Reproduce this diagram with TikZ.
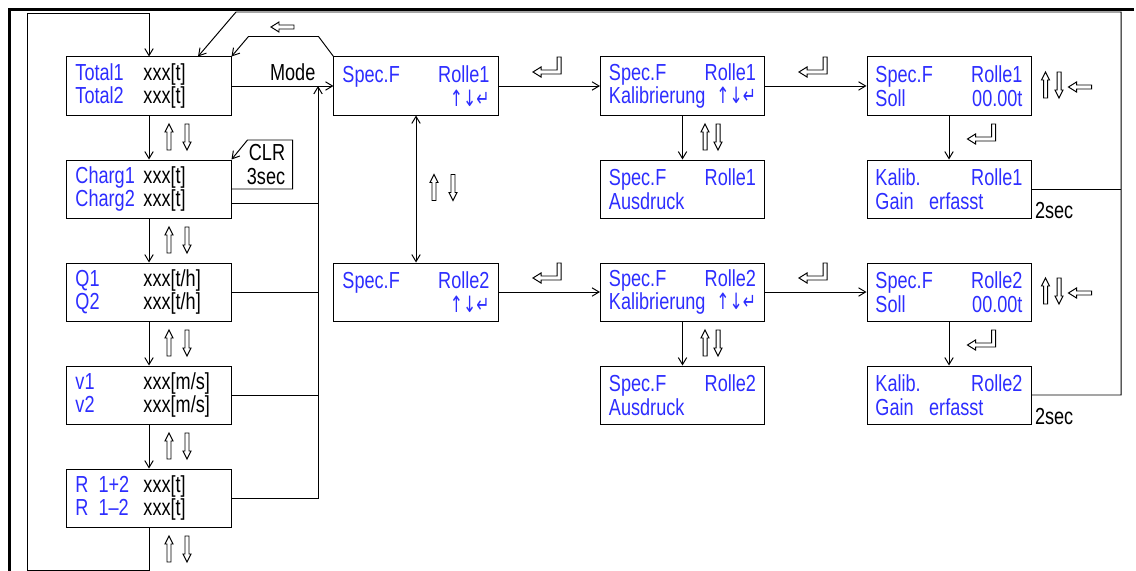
\documentclass[tikz,border=0pt]{standalone}
\usepackage{fontspec}
\setmainfont{Liberation Sans}[FakeStretch=0.78]
\newfontfamily\navfont{DejaVu Sans}[FakeStretch=0.7]
\usetikzlibrary{arrows.meta,calc}
\definecolor{lcdblue}{RGB}{45,45,255}
\newcommand{\navkeys}{{\navfont\fontsize{16}{17}\selectfont ↑↓↵}}
\newcommand{\lrow}[2]{\makebox[1.7cm][l]{\color{lcdblue}#1}\textcolor{black}{#2}}
\tikzset{
  box/.style={draw, rectangle, minimum width=4.1cm, minimum height=1.45cm, inner sep=0pt,
    text width=3.675cm, align=left, text=lcdblue},
  hup/.pic={\draw (0,-13) -- (4,-5) -- (2,-5) -- (2,13) -- (-2,13) -- (-2,-5) -- (-4,-5) -- cycle;},
  hdown/.pic={\draw (0,13) -- (4,5) -- (2,5) -- (2,-13) -- (-2,-13) -- (-2,5) -- (-4,5) -- cycle;},
  hleft/.pic={\draw (-11.5,0) -- (-3.5,-5) -- (-3.5,-2) -- (11.5,-2) -- (11.5,2) -- (-3.5,2) -- (-3.5,5) -- cycle;},
  hret/.pic={\draw (-14,5) -- (-6,0) -- (-6,3) -- (10,3) -- (10,-10) -- (14,-10) -- (14,7) -- (-6,7) -- (-6,10) -- cycle;}
}
\begin{document}
\begin{tikzpicture}[x=0.025cm,y=-0.025cm,line width=0.7pt,>={Straight Barb[length=5pt,width=6pt]},
  font=\fontsize{16.5}{17}\selectfont]
\useasboundingbox (0,0) rectangle (1136,571);
\draw[line width=2.2pt] (1134,9.5) -| (9.5,571);
% linke Spalte
\node[box] (tot) at (149,86) {\lrow{Total1}{xxx[t]}\\\lrow{Total2}{xxx[t]}};
\node[box] (charg) at (149,189) {\lrow{Charg1}{xxx[t]}\\\lrow{Charg2}{xxx[t]}};
\node[box] (q) at (149,292) {\lrow{Q1}{xxx[t/h]}\\\lrow{Q2}{xxx[t/h]}};
\node[box] (v) at (149,395) {\lrow{v1}{xxx[m/s]}\\\lrow{v2}{xxx[m/s]}};
\node[box] (r) at (149,498) {\lrow{R\hspace{.25cm}1+2}{xxx[t]}\\\lrow{R\hspace{.25cm}1–2}{xxx[t]}};
% Rolle 1
\node[box] (spec1) at (416,86) {Spec.F\hfill Rolle1\\\hspace*{\fill}\navkeys};
\node[box] (kalib1) at (682.5,86) {Spec.F\hfill Rolle1\\Kalibrierung\hfill\navkeys};
\node[box] (soll1) at (949,86) {Spec.F\hfill Rolle1\\Soll\hfill 00.00t};
\node[box] (druck1) at (682.5,189) {Spec.F\hfill Rolle1\\Ausdruck};
\node[box] (gain1) at (949,189) {Kalib.\hfill Rolle1\\Gain~~erfasst};
% Rolle 2
\node[box] (spec2) at (416,292) {Spec.F\hfill Rolle2\\\hspace*{\fill}\navkeys};
\node[box] (kalib2) at (682.5,292) {Spec.F\hfill Rolle2\\Kalibrierung\hfill\navkeys};
\node[box] (soll2) at (949,292) {Spec.F\hfill Rolle2\\Soll\hfill 00.00t};
\node[box] (druck2) at (682.5,395) {Spec.F\hfill Rolle2\\Ausdruck};
\node[box] (gain2) at (949,395) {Kalib.\hfill Rolle2\\Gain~~erfasst};
\node[anchor=base west,inner sep=0pt] (sec1) at ($(gain1.south east)+(3,0)$) {2sec};
\node[anchor=base west,inner sep=0pt] (sec2) at ($(gain2.south east)+(3,0)$) {2sec};
\node[align=right] (clr) at (266,164.5) {CLR\\3sec};
% Verbindungen
\coordinate (lb) at (27,570);
\coordinate (lt) at (27,13);
\coordinate (rt) at (1121,12);
\coordinate (bus) at (318,86);
\coordinate (cb) at ($(charg.east)+(0,14.5)$);
\draw[->] (tot) -- (charg);
\draw[->] (charg) -- (q);
\draw[->] (q) -- (v);
\draw[->] (v) -- (r);
\draw[->] (r.south) |- (lb) -- (lt) -| (tot.north);
\draw[->] (gain2.east) -| (rt) -- ++(-885,0) -- ($(tot.north)+(49,0)$);
\draw (gain1.east) -- (gain1.east -| rt);
\draw[->] (spec1.north west) -- ++(-15,-20) -- ++(-70,0) -- (tot.north east);
\draw[->] (tot.east) -- node[above,pos=.6]{Mode} (spec1.west);
\draw[->] (r.east) -| (bus);
\draw (q.east) -- (q.east -| bus);
\draw (v.east) -- (v.east -| bus);
\draw (cb) -- (cb -| bus);
\draw[->] (charg.east) -- ++(61,0) -- ++(0,-49) -- ++(-45,0) -- (charg.north east);
\draw[<->] (spec1) -- (spec2);
\draw[->] (spec1) -- (kalib1);
\draw[->] (kalib1) -- (soll1);
\draw[->] (kalib1) -- (druck1);
\draw[->] (soll1) -- (gain1);
\draw[->] (spec2) -- (kalib2);
\draw[->] (kalib2) -- (soll2);
\draw[->] (kalib2) -- (druck2);
\draw[->] (soll2) -- (gain2);
% Tastensymbole
\pic at (282.5,27) {hleft};
\foreach \y in {137,240,343,446,549} {\pic at (169,\y) {hup}; \pic at (187,\y) {hdown};}
\pic at (434,187.5) {hup};
\pic at (453,187.5) {hdown};
\foreach \y in {137,343} {\pic at (705,\y) {hup}; \pic at (718,\y) {hdown};}
\foreach \y in {85,291} {\pic at (1045.5,\y) {hup}; \pic at (1059,\y) {hdown}; \pic at (1080,\y+2) {hleft};}
\foreach \y in {67,273} {\pic at (547,\y) {hret}; \pic at (813,\y) {hret}; \pic at (981.5,\y+67) {hret};}
\end{tikzpicture}
\end{document}
